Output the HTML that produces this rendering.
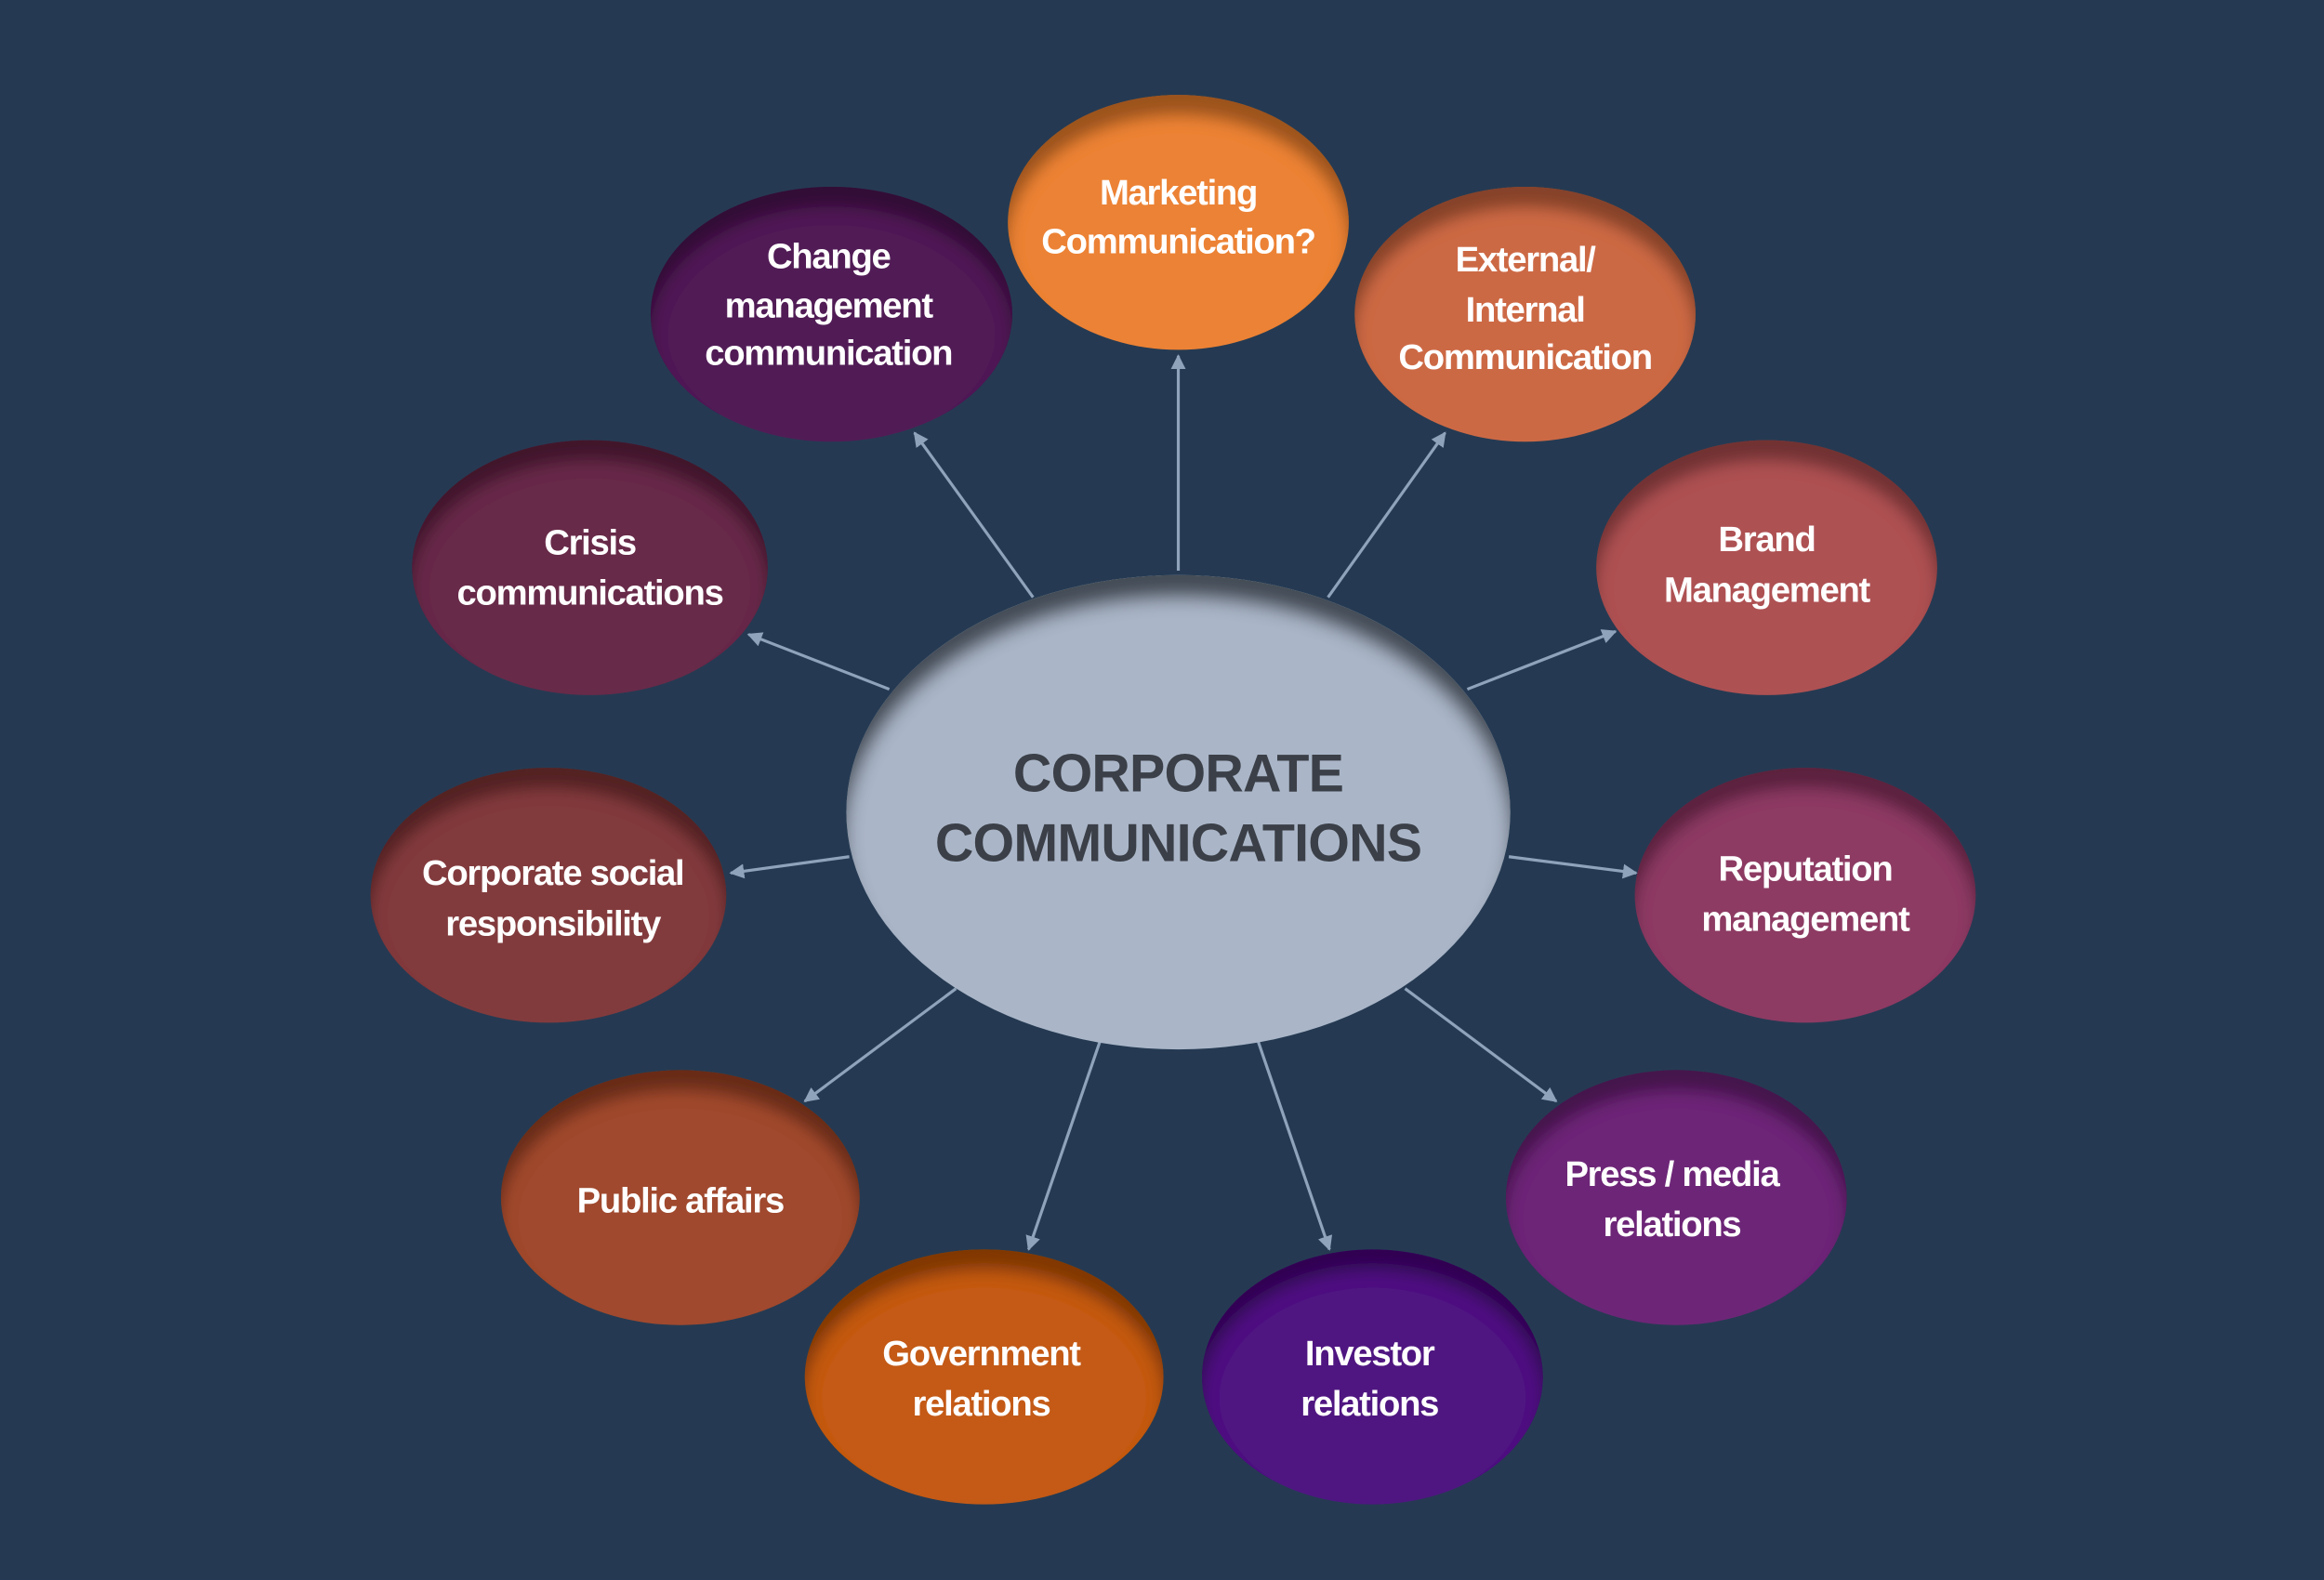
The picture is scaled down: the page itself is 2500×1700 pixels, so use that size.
<!DOCTYPE html>
<html><head><meta charset="utf-8"><style>
html,body{margin:0;padding:0;background:#253a52;}
svg{display:block}
text{font-family:"Liberation Sans",sans-serif;font-weight:bold;}
</style></head><body>
<svg width="2500" height="1700" viewBox="0 0 1568 1066" preserveAspectRatio="none" xmlns="http://www.w3.org/2000/svg">
<defs>
<filter id="inner" x="-10%" y="-10%" width="120%" height="120%">
<feFlood flood-color="#000" flood-opacity="0.6" result="f"/>
<feComposite in="f" in2="SourceAlpha" operator="out" result="o"/>
<feOffset in="o" dy="14" result="off"/>
<feGaussianBlur in="off" stdDeviation="5" result="b"/>
<feComposite in="b" in2="SourceAlpha" operator="in" result="s"/>
<feMerge><feMergeNode in="SourceGraphic"/><feMergeNode in="s"/></feMerge>
</filter>
<filter id="innerc" x="-10%" y="-10%" width="120%" height="120%">
<feFlood flood-color="#2a303c" flood-opacity="0.9" result="f"/>
<feComposite in="f" in2="SourceAlpha" operator="out" result="o"/>
<feOffset in="o" dy="16" result="off"/>
<feGaussianBlur in="off" stdDeviation="6" result="b"/>
<feComposite in="b" in2="SourceAlpha" operator="in" result="s"/>
<feMerge><feMergeNode in="SourceGraphic"/><feMergeNode in="s"/></feMerge>
</filter>
<marker id="ah" viewBox="0 0 10 10" refX="9" refY="5" markerWidth="5" markerHeight="5" orient="auto">
<path d="M0,0 L10,5 L0,10 z" fill="#8fa3bb"/>
</marker>
</defs>
<rect width="1568" height="1066" fill="#253a52"/>
<g stroke="#8fa3bb" stroke-width="2" marker-end="url(#ah)">
<line x1="697" y1="403" x2="617" y2="292"/>
<line x1="795" y1="385" x2="795" y2="240"/>
<line x1="896" y1="403" x2="975" y2="292"/>
<line x1="990" y1="465" x2="1090" y2="426"/>
<line x1="600" y1="465" x2="505" y2="428"/>
<line x1="1018" y1="578" x2="1104" y2="589"/>
<line x1="573" y1="578" x2="493" y2="589"/>
<line x1="645" y1="667" x2="543" y2="743"/>
<line x1="948" y1="667" x2="1050" y2="743"/>
<line x1="742" y1="703" x2="694" y2="843"/>
<line x1="849" y1="703" x2="897" y2="843"/>
</g>
<g filter="url(#inner)">
<ellipse cx="795" cy="150" rx="115" ry="86" fill="#ec8236"/>
<ellipse cx="561" cy="212" rx="122" ry="86" fill="#511d57"/>
<ellipse cx="1029" cy="212" rx="115" ry="86" fill="#cc6945"/>
<ellipse cx="398" cy="383" rx="120" ry="86" fill="#682a4a"/>
<ellipse cx="1192" cy="383" rx="115" ry="86" fill="#ae5153"/>
<ellipse cx="370" cy="604" rx="120" ry="86" fill="#823a3e"/>
<ellipse cx="1218" cy="604" rx="115" ry="86" fill="#8d3a64"/>
<ellipse cx="459" cy="808" rx="121" ry="86" fill="#a04a2e"/>
<ellipse cx="1131" cy="808" rx="115" ry="86" fill="#6d2677"/>
<ellipse cx="664" cy="929" rx="121" ry="86" fill="#c45a16"/>
<ellipse cx="926" cy="929" rx="115" ry="86" fill="#4f1781"/>
</g>
<ellipse cx="795" cy="548" rx="224" ry="160" fill="#aab6c8" filter="url(#innerc)"/>
<g fill="#fff" font-size="24" text-anchor="middle" letter-spacing="-0.8">
<text x="795" y="138">Marketing</text><text x="795" y="171">Communication?</text>
<text x="559" y="181">Change</text><text x="559" y="214">management</text><text x="559" y="246">communication</text>
<text x="1029" y="183">External/</text><text x="1029" y="217">Internal</text><text x="1029" y="249">Communication</text>
<text x="398" y="374">Crisis</text><text x="398" y="408">communications</text>
<text x="1192" y="372">Brand</text><text x="1192" y="406">Management</text>
<text x="373" y="597">Corporate social</text><text x="373" y="631">responsibility</text>
<text x="1218" y="594">Reputation</text><text x="1218" y="628">management</text>
<text x="459" y="818">Public affairs</text>
<text x="1128" y="800">Press / media</text><text x="1128" y="834">relations</text>
<text x="662" y="921">Government</text><text x="662" y="955">relations</text>
<text x="924" y="921">Investor</text><text x="924" y="955">relations</text>
</g>
<g fill="#3b3f47" font-size="36" text-anchor="middle" letter-spacing="-0.5">
<text x="795" y="534">CORPORATE</text>
<text x="795" y="581">COMMUNICATIONS</text>
</g>
</svg>
</body></html>
